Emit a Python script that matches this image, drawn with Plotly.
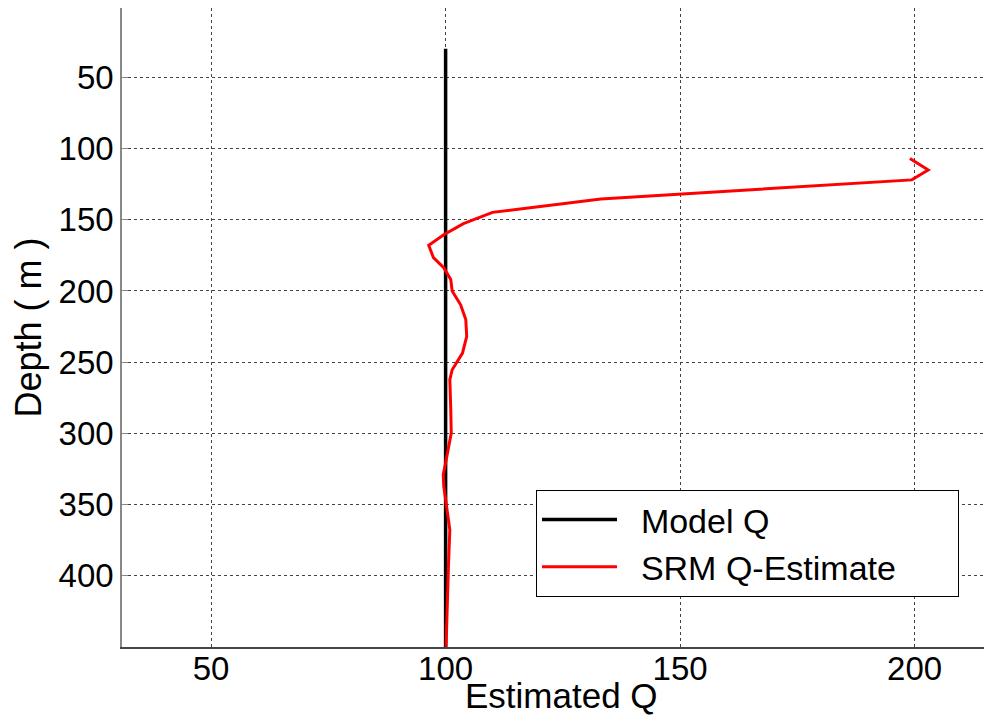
import plotly.graph_objects as go

# Model Q (constant reference)
model_depth = [30, 450]
model_q = [100, 100]

# SRM Q-Estimate
srm_depth = [107, 115, 122, 135.4, 144.8, 152.7, 160.5, 168, 176.6, 183.7, 192, 200,
             209.7, 220, 231.9, 243.6, 255.3, 262.3, 283.4, 299.8, 313.8, 329, 337,
             356, 367.7, 393.5, 416.9, 449.8]
srm_q = [199.0, 202.9, 199.4, 133.1, 110.0, 103.8, 99.6, 96.4, 97.4, 99.6, 101.1, 101.4,
         103.2, 104.3, 104.5, 103.6, 101.4, 100.9, 101.1, 101.2, 100.4, 99.5, 99.6,
         100.4, 100.9, 100.6, 100.4, 100.1]

x_ticks = [50, 100, 150, 200]
y_ticks = [50, 100, 150, 200, 250, 300, 350, 400]

FONT = "Liberation Sans, Arial, sans-serif"
NB = "\u00a0"

fig = go.Figure()
fig.add_trace(go.Scatter(x=model_q, y=model_depth, mode="lines",
                         name=NB * 2 + "Model Q",
                         line=dict(color="black", width=3.5)))
fig.add_trace(go.Scatter(x=srm_q, y=srm_depth, mode="lines",
                         name=NB * 2 + "SRM Q-Estimate" + NB * 6,
                         line=dict(color="#ff0000", width=3)))

# page body has an 8px margin: plot area spans x 122..992, y 8..647 on the page
fig.update_layout(
    width=984, height=715,
    margin=dict(l=114, r=0, t=0, b=76),
    paper_bgcolor="white", plot_bgcolor="white",
    font=dict(family=FONT, size=33, color="black"),
    showlegend=True,
    legend=dict(
        x=(536 - 122) / 870, y=(647 - 490) / 639, xanchor="left", yanchor="top",
        bordercolor="black", borderwidth=1, bgcolor="white",
        font=dict(family=FONT, size=34, color="black"),
        itemwidth=75, tracegroupgap=0,
    ),
    xaxis=dict(
        range=[31, 216.5], tickvals=x_ticks, ticktext=[str(v) for v in x_ticks],
        showgrid=True, gridcolor="#444", griddash="dot", gridwidth=1,
        showline=True, linecolor="#444", linewidth=1.5, mirror=True,
        ticks="", ticklabelstandoff=-8,
        zeroline=False,
        automargin=False,
    ),
    yaxis=dict(
        range=[450, 1.3], tickvals=y_ticks, ticktext=[str(v) for v in y_ticks],
        showgrid=True, gridcolor="#444", griddash="dot", gridwidth=1,
        showline=True, linecolor="#888", linewidth=1.5,
        ticks="inside", ticklen=6, tickcolor="#888",
        zeroline=False,
        title=dict(text="Depth ( m )", standoff=14, font=dict(size=36)),
        automargin=False,
    ),
    annotations=[dict(
        text="Estimated Q", xref="paper", yref="paper",
        x=0.5 + 4 / 870, y=-48 / 639, xanchor="center", yanchor="middle",
        showarrow=False, font=dict(family=FONT, size=35, color="black"),
    )],
)

fig.write_html("out.html")
